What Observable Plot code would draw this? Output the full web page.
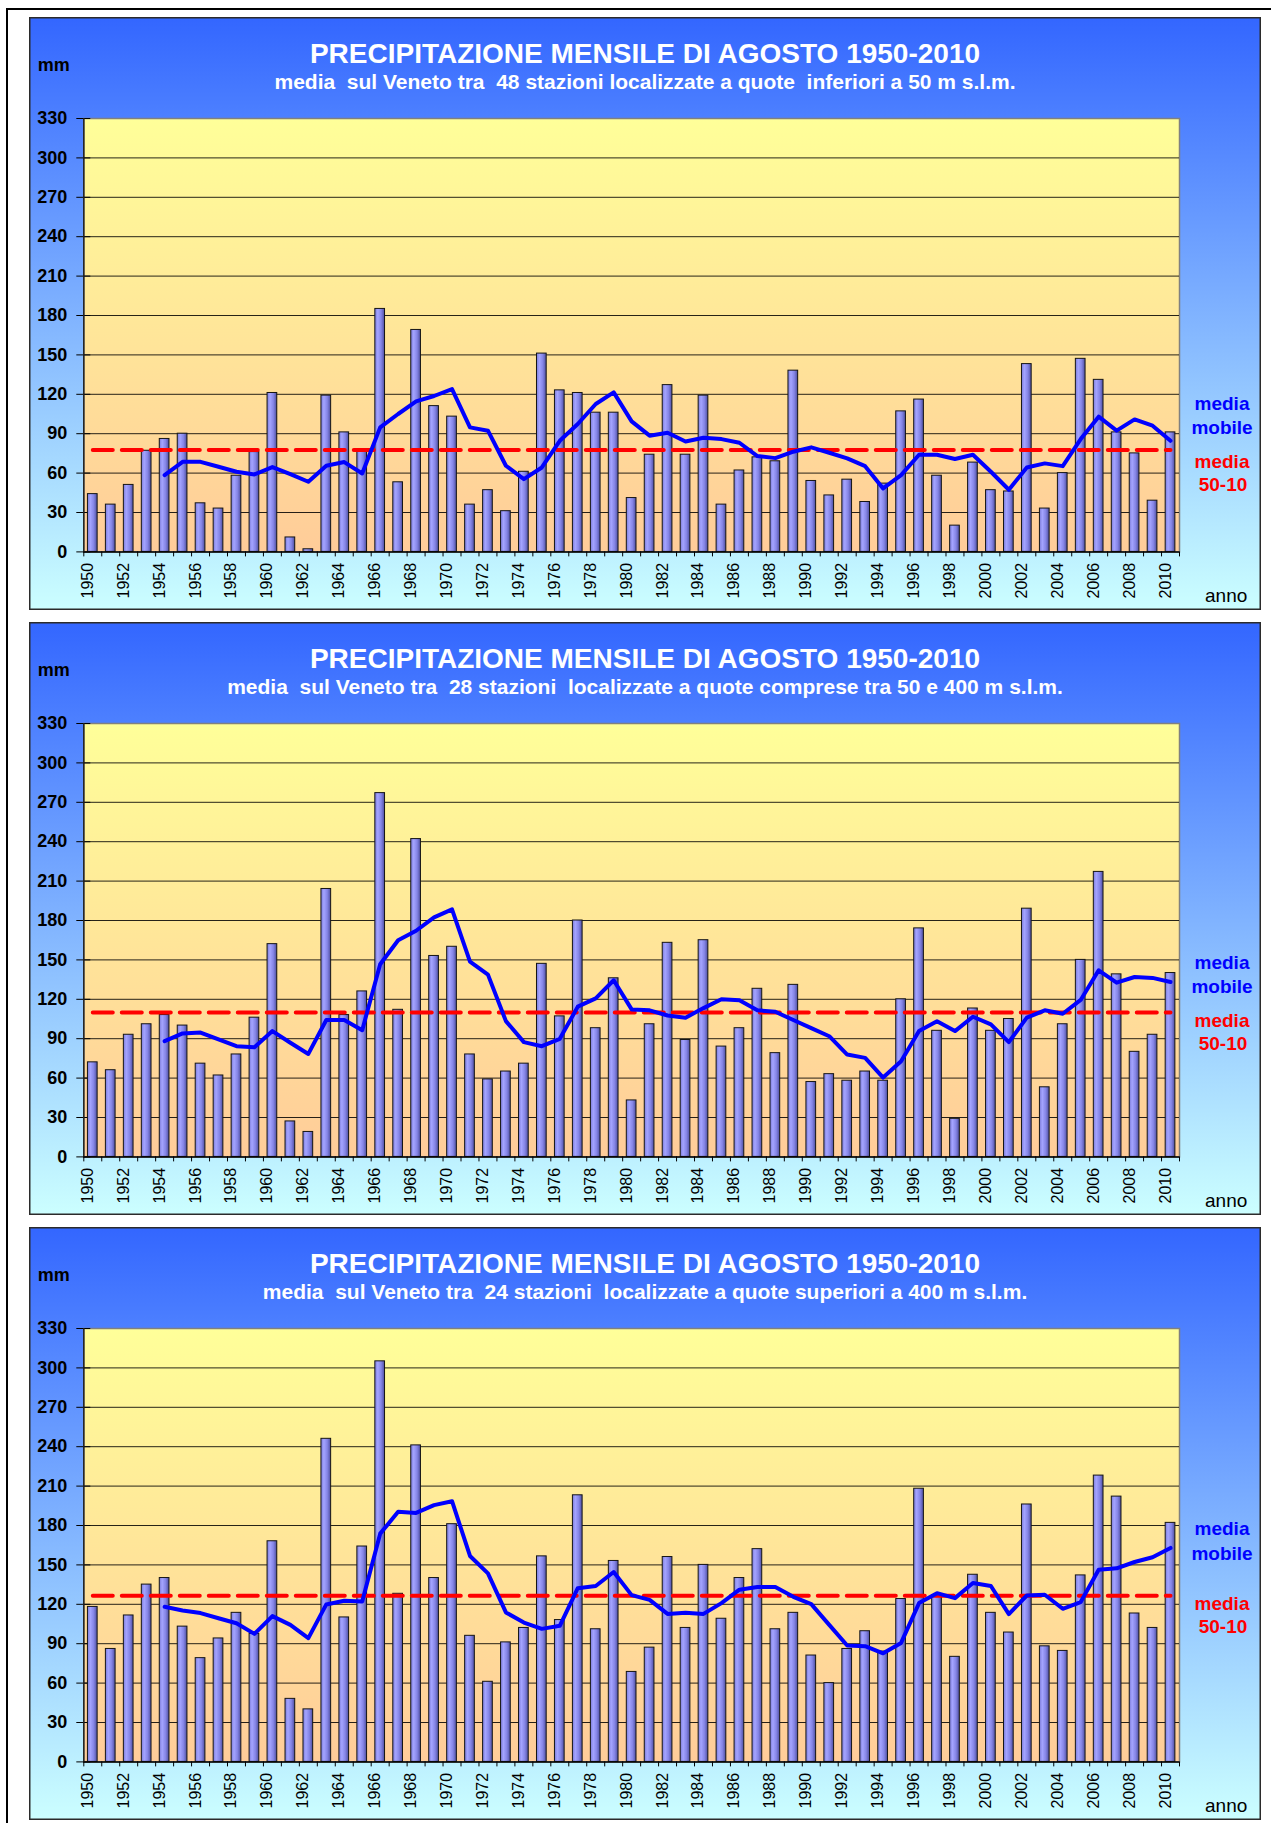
<!DOCTYPE html>
<html>
<head>
<meta charset="utf-8">
<script src="https://cdn.jsdelivr.net/npm/d3@7"></script>
<script src="https://cdn.jsdelivr.net/npm/@observablehq/plot@0.6"></script>
<style>
  html, body { margin: 0; padding: 0; background: #ffffff; }
  body { width: 1271px; height: 1823px; position: relative; overflow: hidden;
         font-family: Arial, "Liberation Sans", Helvetica, sans-serif; }
  .frameTop { position: absolute; left: 6px; top: 8px; width: 1265px; height: 2px; background: #000; }
  .frameLeft { position: absolute; left: 6px; top: 8px; width: 2px; height: 1815px; background: #000; }
  .panel { position: absolute; left: 29px; width: 1232px; height: 593px;
           background: linear-gradient(to bottom, #3366ff 0%, #ccffff 100%);
           box-shadow: inset 0 0 0 1.5px #2b2b2b; }
  .panel svg { position: absolute; left: 0; top: 0; }
  .lbl { position: absolute; white-space: pre; line-height: 1; transform: translateY(-50%); }
</style>
</head>
<body>
<div class="frameTop"></div>
<div class="frameLeft"></div>
<script>
// ---------- DATA ----------
const years = d3.range(1950, 2011);
const yTicks = [0, 30, 60, 90, 120, 150, 180, 210, 240, 270, 300, 330];
const maStart = 1954;

const title = "PRECIPITAZIONE MENSILE DI AGOSTO 1950-2010";
const subtitles = [
  "media  sul Veneto tra  48 stazioni localizzate a quote  inferiori a 50 m s.l.m.",
  "media  sul Veneto tra  28 stazioni  localizzate a quote comprese tra 50 e 400 m s.l.m.",
  "media  sul Veneto tra  24 stazioni  localizzate a quote superiori a 400 m s.l.m."
];

// Panel 1: stazioni < 50 m
const bars1 = [44, 36, 51, 77, 86, 90, 37, 33, 58, 76,
               121, 11, 2, 119, 91, 77, 185, 53, 169, 111,
               103, 36, 47, 31, 61, 151, 123, 121, 106, 106,
               41, 74, 127, 74, 119, 36, 62, 72, 69, 138,
               54, 43, 55, 38, 52, 107, 116, 58, 20, 68,
               47, 46, 143, 33, 60, 147, 131, 91, 75, 39,
               91];
const ma1 = [58.5, 68.6, 68.6, 64.8, 61, 59,
             64.6, 59.2, 53.4, 65.6, 68.4, 59.7, 94.8, 105, 114.6, 118.7,
             124, 94.8, 92.3, 65.6, 55.4, 64.3, 84.6, 97.4, 112.6, 121.5,
             99.4, 88.5, 90.7, 84.1, 86.9, 85.9, 83.1, 73, 71.4, 76.3,
             79.6, 75.5, 71.2, 65.3, 48.3, 58.5, 74, 74, 70.7, 74,
             61, 47.3, 64.3, 67.4, 65.3, 85.9, 103, 92.3, 100.9, 96.1,
             84.6];
const mean1 = 77.5;

// Panel 2: stazioni 50-400 m
const bars2 = [72, 66, 93, 101, 108, 100, 71, 62, 78, 106,
               162, 27, 19, 204, 108, 126, 277, 112, 242, 153,
               160, 78, 59, 65, 71, 147, 107, 180, 98, 136,
               43, 101, 163, 89, 165, 84, 98, 128, 79, 131,
               57, 63, 58, 65, 58, 120, 174, 96, 29, 113,
               96, 105, 189, 53, 101, 150, 217, 139, 80, 93,
               140];
const ma2 = [88.1, 94, 94.7, 89.4, 84.3, 83.5,
             95.8, 86.9, 78.4, 104.2, 104.2, 96.5, 146.7, 165, 172.2, 182.4,
             188.5, 148.7, 138.8, 103.4, 87.4, 84.3, 89.9, 114.4, 120.7, 134.5,
             112.3, 111.6, 107.7, 106, 113.3, 120, 119.2, 111.6, 110.5, 104.2,
             98, 91.9, 77.9, 75.4, 60.4, 72.8, 95.8, 103.2, 95.8, 106.7,
             100.9, 87.4, 106, 111.6, 109, 119.5, 142.1, 132.7, 137, 136.3,
             133.2];
const mean2 = 110;

// Panel 3: stazioni > 400 m
const bars3 = [118, 86, 111.5, 135, 140, 103, 79, 94, 113.5, 97.5,
               168, 48, 40, 246, 110, 164, 305, 128, 241, 140,
               181, 96, 61, 91, 102, 156.5, 108, 203, 101, 153,
               68.5, 87, 156, 102, 150, 109, 140, 162, 101, 113.5,
               81, 60, 86, 99.5, 84, 124, 208, 127, 80, 142.5,
               113.5, 98.5, 196, 88, 84.5, 142, 218, 202, 113, 102,
               182];
const ma3 = [118.1, 115.3, 113.3, 109.4, 105.6, 97.5,
             111, 104.3, 94.2, 119.9, 122.7, 122.2, 173.8, 190.4, 189.6, 195.5,
             198.5, 156.8, 143.5, 113.8, 106.1, 101.3, 103.6, 132.3, 133.9, 144.6,
             127, 123.4, 112.7, 113.5, 112.7, 120.9, 131.1, 133.1, 133.1, 125.7,
             120.1, 104.3, 88.6, 88.1, 82.7, 90.6, 120.9, 128.5, 124.7, 136.2,
             133.9, 112.5, 126.7, 127.3, 116.6, 121.7, 146.3, 147.4, 152.2, 155.8,
             162.9];
const mean3 = 126.5;

const legendMobile = ["media", "mobile"];
const legendMean = ["media", "50-10"];

// ---------- LAYOUT ----------
const panels = [
  {top: 17.3, bars: bars1, ma: ma1, mean: mean1, sub: subtitles[0], mobY: 385.7, meanY: 443.5},
  {top: 622.3, bars: bars2, ma: ma2, mean: mean2, sub: subtitles[1], mobY: 339.7, meanY: 397.7},
  {top: 1227.3, bars: bars3, ma: ma3, mean: mean3, sub: subtitles[2], mobY: 301, meanY: 375.3}
];

const W = 1232, H = 593;
const mL = 54.3, mR = 82, mT = 101, mB = 58.6;
const plotW = W - mL - mR, plotH = H - mT - mB;
const step = plotW / years.length;
const font = "Arial, 'Liberation Sans', Helvetica, sans-serif";

function label(parent, text, o) {
  const d = document.createElement("div");
  d.className = "lbl";
  d.textContent = text;
  d.style.top = o.cy + "px";
  d.style.fontSize = o.size + "px";
  d.style.fontWeight = o.weight || "bold";
  d.style.color = o.color || "#000";
  if (o.center !== undefined) {
    d.style.left = (o.center - 500) + "px";
    d.style.width = "1000px";
    d.style.textAlign = "center";
  } else {
    d.style.left = o.left + "px";
  }
  parent.appendChild(d);
}

panels.forEach((p, i) => {
  const div = document.createElement("div");
  div.className = "panel";
  div.style.top = p.top + "px";
  document.body.appendChild(div);

  const rows = years.map((y, k) => ({year: y, value: p.bars[k]}));
  const maRows = p.ma.map((v, k) => ({year: maStart + k, value: v}));
  const meanRows = [{year: years[0], value: p.mean}, {year: years[years.length - 1], value: p.mean}];
  const pxToY = 330 / plotH;

  const chart = Plot.plot({
    width: W, height: H,
    marginLeft: mL, marginRight: mR, marginTop: mT, marginBottom: mB,
    x: {type: "band", domain: years, paddingInner: 0.46, paddingOuter: 0.23, axis: null},
    y: {domain: [0, 330], axis: null},
    style: {background: "transparent", overflow: "visible", fontFamily: font},
    marks: [
      Plot.frame({fill: `url(#bg${i})`, stroke: "#808080", strokeWidth: 1.5}),
      Plot.ruleY(yTicks.filter(v => v > 0 && v < 330), {y: d => d, stroke: "#000", strokeWidth: 1, strokeOpacity: 0.85}),
      Plot.tickY(yTicks, {y: d => d, stroke: "#000", strokeWidth: 1, insetLeft: -7, insetRight: plotW - 7}),
      Plot.barY(rows, {x: "year", y: "value", fill: `url(#bar${i})`, stroke: "#151515", strokeWidth: 1}),
      Plot.line(meanRows, {x: "year", y: "value", stroke: "#ff0000", strokeWidth: 4, strokeDasharray: "20,9"}),
      Plot.line(maRows, {x: "year", y: "value", stroke: "#0000ff", strokeWidth: 4, strokeLinejoin: "round"}),
      Plot.ruleY([0], {y: d => d, stroke: "#000", strokeWidth: 1.5}),
      Plot.ruleX([years[0]], {x: d => d, y1: 0, y2: 330, dx: -step / 2, stroke: "#222", strokeWidth: 1.5}),
      Plot.ruleX(years, {x: d => d, y1: 0, y2: -5 * pxToY, dx: -step / 2, stroke: "#000", strokeWidth: 1}),
      Plot.ruleX([years[years.length - 1]], {x: d => d, y1: 0, y2: -5 * pxToY, dx: step / 2, stroke: "#000", strokeWidth: 1}),
      Plot.text(yTicks, {y: d => d, text: d => String(d), frameAnchor: "left", textAnchor: "end",
                         dx: -16.6, fontSize: 18, fontWeight: "bold", fill: "#000"}),
      Plot.text(years.filter(y => y % 2 === 0), {x: d => d, text: d => String(d), frameAnchor: "bottom",
                         rotate: -90, textAnchor: "end", dy: 11, fontSize: 16, fill: "#000"})
    ]
  });
  const svg = chart.tagName.toLowerCase() === "svg" ? chart : chart.querySelector("svg");
  const defs = d3.select(svg).insert("defs", ":first-child");
  const bg = defs.append("linearGradient").attr("id", "bg" + i)
    .attr("x1", 0).attr("y1", 0).attr("x2", 0).attr("y2", 1);
  bg.append("stop").attr("offset", "0%").attr("stop-color", "#ffff99");
  bg.append("stop").attr("offset", "100%").attr("stop-color", "#ffcc99");
  const bar = defs.append("linearGradient").attr("id", "bar" + i)
    .attr("x1", 0).attr("y1", 0).attr("x2", 1).attr("y2", 0);
  bar.append("stop").attr("offset", "0%").attr("stop-color", "#7b7bd8");
  bar.append("stop").attr("offset", "30%").attr("stop-color", "#a4a4ff");
  bar.append("stop").attr("offset", "65%").attr("stop-color", "#8585e6");
  bar.append("stop").attr("offset", "100%").attr("stop-color", "#4f4fa0");
  div.appendChild(chart);

  label(div, title, {center: 616, cy: 36.7, size: 28, color: "#ffffff"});
  label(div, p.sub, {center: 616, cy: 64, size: 21, color: "#ffffff"});
  label(div, "mm", {left: 8.7, cy: 47.7, size: 18});
  label(div, "anno", {left: 1176, cy: 577.7, size: 19, weight: "normal"});
  label(div, legendMobile[0], {center: 1193, cy: p.mobY, size: 19, color: "#0000ff"});
  label(div, legendMobile[1], {center: 1193, cy: p.mobY + 24.5, size: 19, color: "#0000ff"});
  label(div, legendMean[0], {center: 1193, cy: p.meanY, size: 19, color: "#ff0000"});
  label(div, legendMean[1], {center: 1194, cy: p.meanY + 23.5, size: 19, color: "#ff0000"});
});
</script>
</body>
</html>
